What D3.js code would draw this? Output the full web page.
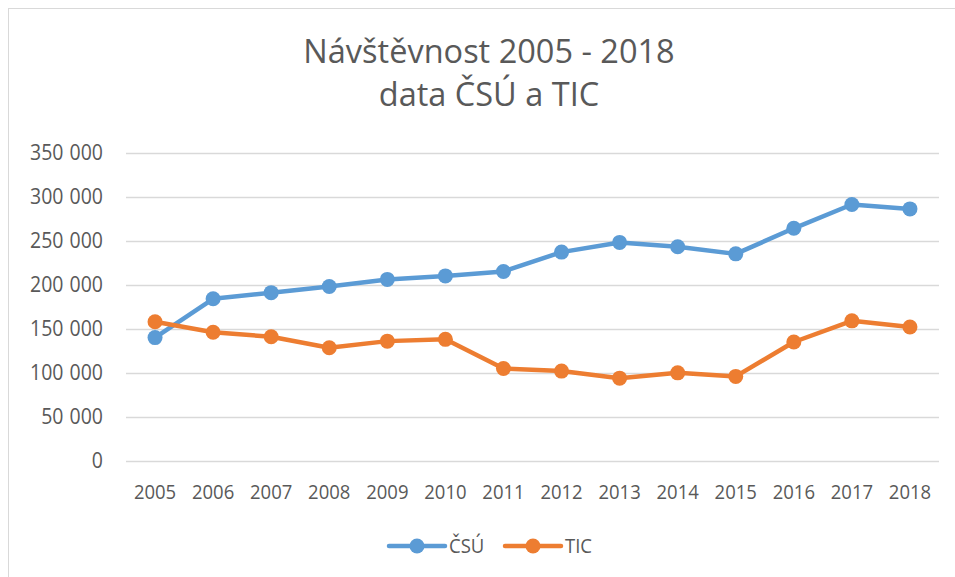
<!DOCTYPE html>
<html><head><meta charset="utf-8">
<script src="https://cdn.jsdelivr.net/npm/d3@7"></script>
<style>body{margin:0;background:#fff;} svg{display:block;font-family:"Open Sans",sans-serif;}</style>
</head><body>
<svg id="c" width="955" height="577"></svg>
<script>
const years = ["2005","2006","2007","2008","2009","2010","2011","2012","2013","2014","2015","2016","2017","2018"];
const csu = [140000,184000,191000,198000,206000,210000,215000,237000,248000,243000,235000,264000,291000,286000];
const tic = [158000,146000,141000,128500,136000,138000,105000,102000,94000,100000,96000,135000,159000,152000];
const yTicks = [0,50000,100000,150000,200000,250000,300000,350000];
const seriesNames = ["ČSÚ","TIC"];
const colors = ["#5B9BD5","#ED7D31"];
const titleLines = ["Návštěvnost 2005 - 2018","data ČSÚ a TIC"];

const svg = d3.select("#c");
svg.append("rect").attr("x",8.5).attr("y",8.5).attr("width",960).attr("height",600)
  .attr("fill","#fff").attr("stroke","#d9d9d9").attr("stroke-width",1);

const pL=126, pR=939, pT=152.5, pB=461;
const sY = 1.1; // vertical stretch of small labels
const x = d3.scaleBand().domain(years).range([pL,pR]);
const y = d3.scaleLinear().domain([0,350000]).range([pB,pT]);

// gridlines
svg.append("g").selectAll("line").data(yTicks).join("line")
  .attr("x1",pL).attr("x2",pR)
  .attr("y1",d=>Math.round(y(d))+0.5).attr("y2",d=>Math.round(y(d))+0.5)
  .attr("stroke","#d9d9d9").attr("stroke-width",1.3);

const fmt = d => d3.format(",")(d).replace(/,/g," ");
const yAxis = d3.axisLeft(y).tickValues(yTicks).tickFormat(fmt).tickSize(0).tickPadding(0);
const ya = svg.append("g").attr("transform",`translate(103,0)`).call(yAxis);
ya.select(".domain").remove();
ya.selectAll("text").attr("fill","#595959").style("font-size","19.5px").style("font-family","Open Sans")
  .style("word-spacing","1px").attr("transform",`scale(1,${sY})`);

const xAxis = d3.axisBottom(x).tickSize(0).tickPadding(0);
const xa = svg.append("g").attr("transform",`translate(0,${pB+24})`).call(xAxis);
xa.select(".domain").remove();
xa.selectAll("text").attr("fill","#595959").style("font-size","18.5px").style("font-family","Open Sans")
  .attr("transform",`scale(1,${sY})`);

const data = [csu, tic];
const line = d3.line().x((d,i)=>x(years[i])+x.bandwidth()/2).y(d=>y(d));
data.forEach((s,k)=>{
  svg.append("path").datum(s).attr("d",line).attr("fill","none")
    .attr("stroke",colors[k]).attr("stroke-width",4.5).attr("stroke-linejoin","round").attr("stroke-linecap","round");
  svg.append("g").selectAll("circle").data(s).join("circle")
    .attr("cx",(d,i)=>x(years[i])+x.bandwidth()/2).attr("cy",d=>y(d)).attr("r",7.5).attr("fill",colors[k]);
});

// title
svg.append("g").selectAll("text").data(titleLines).join("text")
  .attr("x",489).attr("y",(d,i)=>63+i*43).attr("text-anchor","middle")
  .attr("fill","#595959").style("font-size","32.5px").text(d=>d);

// legend
const legX = [389,505], legY = 546;
seriesNames.forEach((n,k)=>{
  const g = svg.append("g");
  g.append("line").attr("x1",legX[k]).attr("x2",legX[k]+56).attr("y1",legY).attr("y2",legY)
    .attr("stroke",colors[k]).attr("stroke-width",4.5).attr("stroke-linecap","round");
  g.append("circle").attr("cx",legX[k]+28).attr("cy",legY).attr("r",7.5).attr("fill",colors[k]);
  g.append("text").attr("transform",`translate(${legX[k]+60},${legY}) scale(1,${sY})`).attr("dy","0.35em")
    .attr("fill","#595959").style("font-size","18.5px").text(n);
});
</script>
</body></html>
